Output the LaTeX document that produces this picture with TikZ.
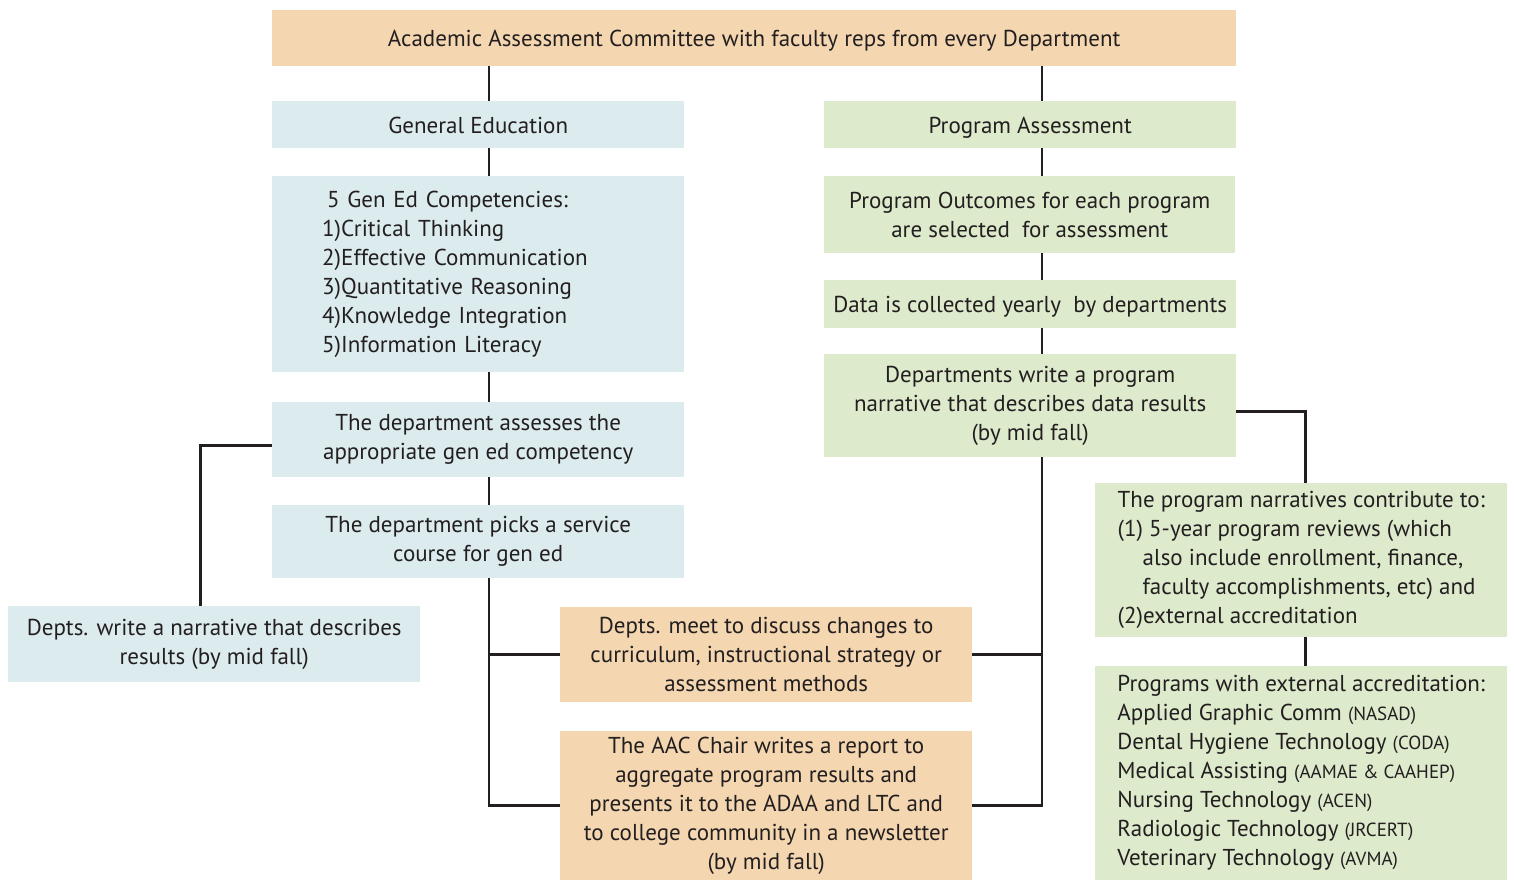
\documentclass[tikz,border=0pt]{standalone}
\usepackage{fontspec}
\setmainfont{PT Sans}
\definecolor{ink}{HTML}{231F20}
\definecolor{peach}{HTML}{F4D6B0}
\definecolor{paleblue}{HTML}{DCEBEE}
\definecolor{palegreen}{HTML}{DDEACC}
\newcommand{\bodyfont}{\fontsize{23}{29}\selectfont}
\newcommand{\agency}[1]{{\fontsize{19}{29}\selectfont #1}}
\begin{document}
\begin{tikzpicture}[x=1pt,y=-1pt,
  box/.style={rectangle, inner sep=0pt, anchor=north west, text=ink,
    font=\bodyfont, align=center},
  oneline/.style={text height=20pt, text depth=3pt},
  orangebox/.style={box, fill=peach},
  bluebox/.style={box, fill=paleblue},
  greenbox/.style={box, fill=palegreen},
  link/.style={draw=ink, line width=2.8pt}]
\useasboundingbox (0,0) rectangle (1514,880);

% spine positions
\coordinate (lx) at (489,0);
\coordinate (rx) at (1042,0);

% top committee
\node[orangebox, oneline, minimum width=964pt, minimum height=56pt] (top) at (272,10)
  {Academic Assessment Committee with faculty reps from every Department};

% general education column
\node[bluebox, oneline, minimum width=412pt, minimum height=47pt] (ge) at (272,101)
  {General Education};
\node[bluebox, minimum width=412pt, minimum height=196pt, align=left,
      text width=312pt, inner xsep=50pt] (comp) at (272,176)
  {\hspace*{5pt}5 Gen Ed Competencies:\\
   1)Critical Thinking\\
   2)Effective Communication\\
   3)Quantitative Reasoning\\
   4)Knowledge Integration\\
   5)Information Literacy};
\node[bluebox, minimum width=412pt, minimum height=75pt] (assess) at (272,402)
  {The department assesses the\\appropriate gen ed competency};
\node[bluebox, minimum width=412pt, minimum height=73pt] (picks) at (272,505)
  {The department picks a service\\course for gen ed};
\node[bluebox, minimum width=412pt, minimum height=76pt] (gnarr) at (8,606)
  {Depts. write a narrative that describes\\results (by mid fall)};

% program assessment column
\node[greenbox, oneline, minimum width=412pt, minimum height=47pt] (pa) at (824,101)
  {Program Assessment};
\node[greenbox, minimum width=411pt, minimum height=77pt] (outc) at (824,176)
  {Program Outcomes for each program\\are selected\ \ for assessment};
\node[greenbox, oneline, minimum width=412pt, minimum height=48pt] (data) at (824,280)
  {Data is collected yearly\ \ by departments};
\node[greenbox, minimum width=412pt, minimum height=103pt] (pnarr) at (824,354)
  {Departments write a program\\narrative that describes data results\\(by mid fall)};
\node[greenbox, minimum width=412pt, minimum height=154pt, align=left] (contrib) at (1095,483)
  {The program narratives contribute to:\\
   (1) 5-year program reviews (which\\
   \hspace*{25pt}also include enrollment, finance,\\
   \hspace*{25pt}faculty accomplishments, etc) and\\
   (2)external accreditation};
\node[greenbox, minimum width=412pt, minimum height=214pt, align=left] (accr) at (1095,666)
  {Programs with external accreditation:\\
   Applied Graphic Comm \agency{(NASAD)}\\
   Dental Hygiene Technology \agency{(CODA)}\\
   Medical Assisting \agency{(AAMAE \& CAAHEP)}\\
   Nursing Technology \agency{(ACEN)}\\
   Radiologic Technology \agency{(JRCERT)}\\
   Veterinary Technology \agency{(AVMA)}};

% shared outcomes
\node[orangebox, minimum width=412pt, minimum height=95pt] (meet) at (560,607)
  {Depts. meet to discuss changes to\\curriculum, instructional strategy or\\assessment methods};
\node[orangebox, minimum width=412pt, minimum height=149pt] (aac) at (560,731)
  {The AAC Chair writes a report to\\aggregate program results and\\presents it to the ADAA and LTC and\\to college community in a newsletter\\(by mid fall)};

% general education links
\draw[link] (top.south -| lx) -- (ge.north -| lx);
\draw[link] (ge.south -| lx) -- (comp.north -| lx);
\draw[link] (comp.south -| lx) -- (assess.north -| lx);
\draw[link] (assess.south -| lx) -- (picks.north -| lx);
\draw[link] (picks.south -| lx) |- (aac.west);
\draw[link] (meet.west) -- (meet.west -| lx);
\draw[link] ([yshift=-5.5pt]assess.west) -| ([xshift=-14pt]gnarr.north);

% program assessment links
\draw[link] (top.south -| rx) -- (pa.north -| rx);
\draw[link] (pa.south -| rx) -- (outc.north -| rx);
\draw[link] (outc.south -| rx) -- (data.north -| rx);
\draw[link] (data.south -| rx) -- (pnarr.north -| rx);
\draw[link] (pnarr.south -| rx) |- (aac.east);
\draw[link] (meet.east) -- (meet.east -| rx);
\draw[link] ([yshift=-5.5pt]pnarr.east) -| ([xshift=4pt]contrib.north);
\draw[link] ([xshift=4pt]contrib.south) -- ([xshift=4pt]accr.north);
\end{tikzpicture}
\end{document}
